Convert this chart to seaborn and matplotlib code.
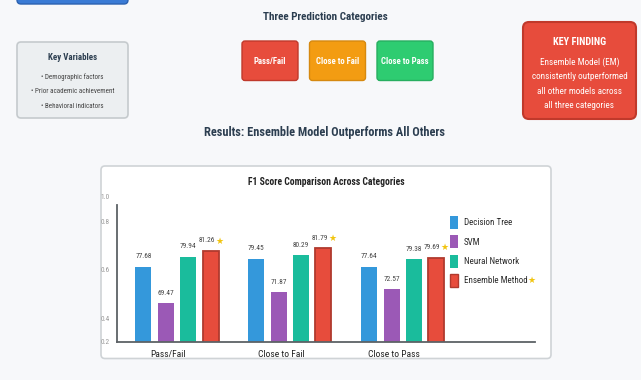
import matplotlib
matplotlib.use("Agg")
import matplotlib.pyplot as plt
from matplotlib.patches import FancyBboxPatch, Patch
from matplotlib.transforms import ScaledTranslation
import seaborn as sns
import pandas as pd

# ---------------- data ----------------
categories = ["Pass/Fail", "Close to Fail", "Close to Pass"]
models = ["Decision Tree", "SVM", "Neural Network", "Ensemble Method"]
decision_tree = [77.68, 79.45, 77.64]
svm = [69.47, 71.87, 72.57]
neural_network = [79.94, 80.29, 79.38]
ensemble_method = [81.26, 81.79, 79.69]
ytick_labels = ["0.2", "0.4", "0.6", "0.8", "1.0"]
key_variables = ["Demographic factors", "Prior academic achievement", "Behavioral indicators"]
finding_lines = ["Ensemble Model (EM)", "consistently outperformed",
                 "all other models across", "all three categories"]

colors = ["#3498db", "#9b59b6", "#1abc9c", "#e74c3c"]
btn_colors = ["#e74c3c", "#f39c12", "#2ecc71"]
btn_edges = ["#c0392b", "#d68910", "#27ae60"]

rows = []
for m, vals in zip(models, [decision_tree, svm, neural_network, ensemble_method]):
    for c, v in zip(categories, vals):
        rows.append({"Category": c, "Model": m, "F1": v})
df = pd.DataFrame(rows)

# ---------------- style ----------------
sns.set_theme(style="white")
FONT = ["Roboto Condensed", "DejaVu Sans"]
plt.rcParams["font.family"] = FONT

W, H = 641, 380
fig = plt.figure(figsize=(W / 100, H / 100), dpi=100)
fig.patch.set_facecolor("#f7f8fa")

bg = fig.add_axes([0, 0, 1, 1], zorder=0)
bg.set_xlim(0, W)
bg.set_ylim(H, 0)
bg.axis("off")


def box(x0, y0, x1, y1, fc, ec, lw=1.0, r=4):
    bg.add_patch(FancyBboxPatch((x0, y0), x1 - x0, y1 - y0,
                                boxstyle=f"round,pad=0,rounding_size={r}",
                                fc=fc, ec=ec, lw=lw))


# top-left partial blue button
box(17, -10, 128, 4, "#3a7bd5", "#2c62b0", lw=1.0)

bg.text(325, 17, "Three Prediction Categories", ha="center", va="center",
        fontsize=8.0, fontweight="bold", color="#2c3e50")

# key variables box
box(17, 42, 128, 118, "#eceff1", "#c5cacd", lw=1.2)
bg.text(72.5, 57, "Key Variables", ha="center", va="center", fontsize=6.4,
        fontweight="bold", color="#2c3e50")
for i, t in enumerate(key_variables):
    bg.text(72.5, 77 + i * 14.5, "\u2022 " + t, ha="center", va="center",
            fontsize=5.0, color="#444444")

# category buttons
btn_x = [242, 309.5, 377]
for x0, name, fc, ec in zip(btn_x, categories, btn_colors, btn_edges):
    box(x0, 41, x0 + 56, 80.5, fc, ec, lw=1.0, r=3)
    bg.text(x0 + 28, 61, name, ha="center", va="center", fontsize=6.3,
            fontweight="bold", color="white")

# key finding box
box(523, 22, 636, 119, "#e74c3c", "#c0392b", lw=1.5, r=6)
bg.text(579.5, 42, "KEY FINDING", ha="center", va="center", fontsize=7.4,
        fontweight="bold", color="white")
for i, t in enumerate(finding_lines):
    bg.text(579.5, 62 + i * 14.5, t, ha="center", va="center", fontsize=6.6,
            color="white")

bg.text(325, 132.5, "Results: Ensemble Model Outperforms All Others",
        ha="center", va="center", fontsize=8.8, fontweight="bold",
        color="#2c3e50")

# chart card
box(101, 166, 551, 358.5, "white", "#cfd3d6", lw=1.2, r=4)
bg.text(326, 182, "F1 Score Comparison Across Categories", ha="center",
        va="center", fontsize=6.9, fontweight="bold", color="#222222")

# ---------------- bar chart ----------------
ylo, yhi = 60.7, 93.5
top_px, bot_px = 196.5, 341.7
ax = fig.add_axes([117 / W, (H - bot_px) / H, (535 - 117) / W,
                   (bot_px - top_px) / H], zorder=2)
ax.set_facecolor("none")
sns.barplot(data=df, x="Category", y="F1", hue="Model", hue_order=models,
            palette=colors, width=0.794, gap=0.286, dodge=True,
            legend=False, ax=ax, saturation=1, linewidth=0)
ax.set_xlim(-0.532, 3.172)
ax.set_ylim(ylo, yhi)

ens_rgb = matplotlib.colors.to_rgb(colors[3])
ens_patches = [p for p in ax.patches if tuple(p.get_facecolor()[:3]) == ens_rgb]
for p in ens_patches:
    p.set_edgecolor("#b03a2e")
    p.set_linewidth(1.3)

# value labels
value_texts = []
for p in ax.patches:
    h = p.get_height()
    if h <= 0:
        continue
    cx = p.get_x() + p.get_width() / 2
    is_ens = p in ens_patches
    t = ax.annotate(f"{h:.2f}", (cx, h), xytext=(-3.0 if is_ens else 0, 7),
                    textcoords="offset points", ha="center", va="center",
                    fontsize=5.3, color="#444444")
    if is_ens:
        value_texts.append(t)

# axes styling
for s in ["top", "right"]:
    ax.spines[s].set_visible(False)
for s in ["left", "bottom"]:
    ax.spines[s].set_color("#5d6266")
    ax.spines[s].set_linewidth(1.3)
ax.spines["left"].set_bounds(ylo, 91.6)
ax.set_xlabel("")
ax.set_ylabel("")
ax.set_yticks([60.73, 66.01, 76.92, 87.83, 93.47])
ax.set_yticklabels(ytick_labels, fontsize=5.3, color="#999999")
ax.tick_params(axis="y", length=0, pad=5)
ax.tick_params(axis="x", length=0, pad=6, labelsize=6.8, labelcolor="#222222")
for lab in ax.get_xticklabels():
    lab.set_transform(lab.get_transform() +
                      ScaledTranslation(-9 / 100, 0, fig.dpi_scale_trans))

handles = [Patch(facecolor=c, edgecolor=("#b03a2e" if i == 3 else "none"),
                 linewidth=1.0) for i, c in enumerate(colors)]
LFS = 6.5
fpx = LFS / 0.72
hh = (13 - 0.245 * fpx) / (0.65 * fpx)
leg = ax.legend(handles, models, loc="upper left",
                bbox_to_anchor=(449.5 / W, (H - 216) / H),
                bbox_transform=fig.transFigure, frameon=False,
                fontsize=LFS, handlelength=8.3 / fpx, handleheight=hh,
                handletextpad=5.7 / fpx, labelspacing=6.3 / fpx, borderpad=0,
                borderaxespad=0)
for t in leg.get_texts():
    t.set_color("#2b2b2b")

# gold stars after the ensemble labels
fig.canvas.draw()
rend = fig.canvas.get_renderer()
star_targets = value_texts + [leg.get_texts()[3]]
for t in star_targets:
    bb = t.get_window_extent(rend)
    fig.text((bb.x1 + 4.5) / W, (bb.y0 + bb.y1) / 2 / H, "\u2605",
             ha="center", va="center", fontsize=6.5, color="#f1c40f",
             family=["DejaVu Sans"], zorder=5)

fig.savefig("out.png", dpi=100, facecolor=fig.get_facecolor())
